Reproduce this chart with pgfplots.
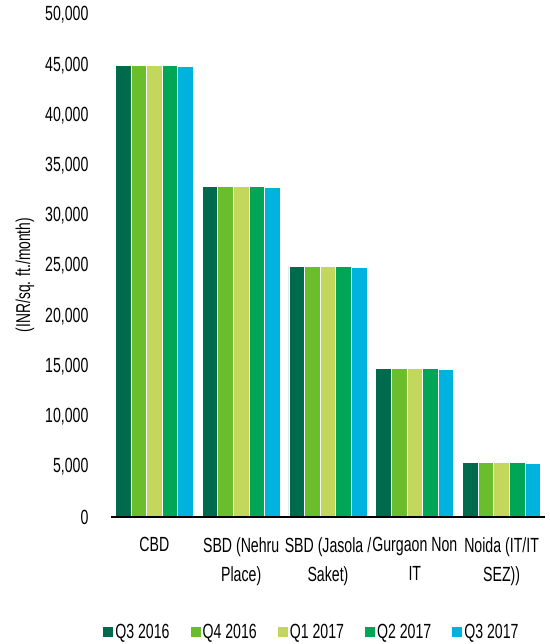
\documentclass[border=0pt]{standalone}
\usepackage{fontspec}
\setmainfont{Liberation Sans}[FakeStretch=0.69]
\usepackage{pgfplots}
\pgfplotsset{compat=1.18}
\definecolor{c1}{HTML}{006A4D}
\definecolor{c2}{HTML}{6ABD2B}
\definecolor{c3}{HTML}{C3D75C}
\definecolor{c4}{HTML}{00A556}
\definecolor{c5}{HTML}{00B3DE}
\begin{document}
\begin{tikzpicture}
\begin{axis}[name=ax, scale only axis, width=434pt, height=502pt,
  xmin=-0.5, xmax=4.5, ymin=0, ymax=50000,
  ybar=0pt, bar width=0.18,
  axis on top,
  axis lines*=left, axis line style={-},
  y axis line style={draw=none},
  x axis line style={line width=2.6pt, black},
  major tick length=0pt, minor tick num=0,
  tick style={draw=none},
  ytick={0,5000,...,50000},
  scaled y ticks=false,
  /pgf/number format/fixed,
  /pgf/number format/1000 sep={,},
  /pgf/number format/assume math mode=true,
  yticklabel style={font=\fontsize{20.5}{22}\selectfont, anchor=east, xshift=-19pt},
  xtick={0,1,2,3,4},
  xticklabels={CBD, {SBD (Nehru\\Place)}, {SBD (Jasola /\\Saket)}, {Gurgaon Non\\IT}, {Noida (IT/IT\\SEZ))}},
  xticklabel style={font=\fontsize{20.5}{29}\selectfont, align=center, anchor=north, yshift=-17pt},
  ylabel={(INR/sq. ft./month)},
  every axis y label/.style={at={(axis description cs:-0.198,0.482)}, rotate=90, anchor=center, font=\fontsize{20}{22}\selectfont},
  every axis plot/.append style={draw=white, line width=0.8pt},
  legend columns=5,
  legend style={at={(axis description cs:0.463,-0.229)}, anchor=center, draw=none, font=\fontsize{20.5}{22}\selectfont, /tikz/every even column/.append style={column sep=19pt}},
  legend image code/.code={\fill[#1, draw=none] (0pt,-5pt) rectangle (10pt,5pt);},
]
\addplot[fill=c1] coordinates {(0,45000) (1,32950) (2,24950) (3,14800) (4,5400)};
\addplot[fill=c2] coordinates {(0,45000) (1,32950) (2,24950) (3,14800) (4,5400)};
\addplot[fill=c3] coordinates {(0,45000) (1,32950) (2,24950) (3,14800) (4,5400)};
\addplot[fill=c4] coordinates {(0,45000) (1,32950) (2,24950) (3,14800) (4,5400)};
\addplot[fill=c5] coordinates {(0,44900) (1,32850) (2,24850) (3,14700) (4,5300)};
\legend{Q3 2016, Q4 2016, Q1 2017, Q2 2017, Q3 2017}
\end{axis}
\pgfresetboundingbox
\path ([shift={(-111pt,-127pt)}]ax.south west) rectangle ([shift={(5pt,15pt)}]ax.north east);
\end{tikzpicture}
\end{document}
